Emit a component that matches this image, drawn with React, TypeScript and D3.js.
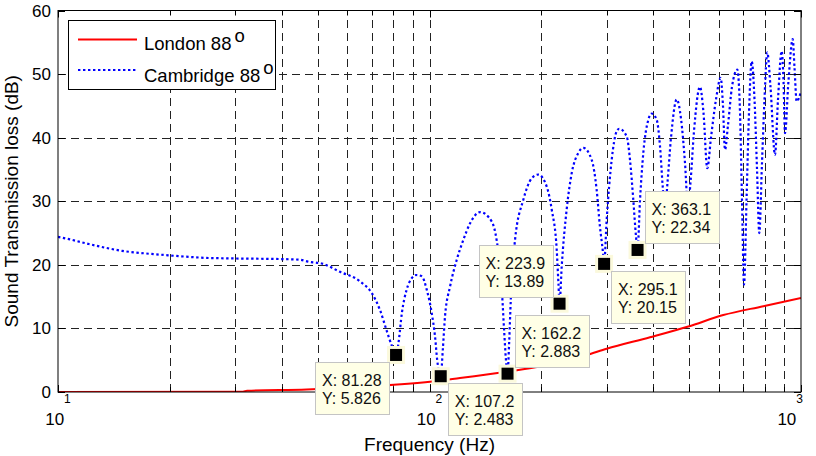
import React from 'react';
import * as d3 from 'd3';

const cambridgeFreq = [
  10.0, 10.77, 12.05, 13.38, 14.87, 17.15, 19.78, 24.87, 29.95, 40.09, 44.81, 47.1, 51.36,
  57.43, 65.02, 70.01, 73.57, 76.83, 79.26, 81.28, 82.5, 84.3, 86.8, 89.6, 92.0, 95.3, 98.3,
  101.4, 103.5, 104.9, 107.2, 108.7, 110.1, 113.6, 118.4, 123.3, 128.5, 136.8, 147.1, 151.6,
  155.8, 158.7, 160.4, 162.2, 163.9, 165.5, 169.9, 178.8, 188.4, 196.3, 206.8, 213.3, 220.0,
  222.4, 223.9, 226.9, 234.0, 241.4, 251.5, 259.4, 273.3, 281.8, 287.6, 292.5, 295.1, 299.9,
  309.3, 319.0, 324.2, 339.5, 346.5, 353.7, 359.6, 363.1, 368.7, 376.3, 388.1, 396.4, 408.9,
  417.4, 424.4, 430.5, 437.2, 446.8, 462.8, 475.3, 487.3, 496.4, 504.2, 515.2, 534.6, 546.3,
  559.4, 572.4, 590.4, 607.8, 616.6, 624.3, 636.1, 652.0, 673.8, 685.2, 693.8, 702.5, 713.4,
  724.5, 736.8, 749.6, 761.4, 772.2, 785.2, 797.4, 811.5, 827.7, 851.1, 867.1, 887.1, 897.2,
  905.6, 925.4, 950.0, 960.6, 973.6, 1000,
];
const cambridgeTL = [
  24.4, 24.0, 23.3, 22.7, 22.2, 21.8, 21.5, 21.1, 21.0, 20.9, 20.8, 20.5, 20.2,
  18.9, 17.4, 15.5, 12.9, 9.5, 7.2, 5.826, 7.7, 12.5, 16.1, 17.9, 18.4, 18.2, 16.1,
  12.4, 8.7, 5.0, 2.483, 7.0, 11.9, 16.6, 20.8, 23.9, 26.5, 28.3, 26.8, 23.9,
  18.0, 10.0, 5.5, 2.883, 8.0, 14.5, 23.9, 30.2, 33.6, 34.2, 32.3, 28.7, 22.4,
  17.0, 13.89, 19.7, 28.7, 34.4, 37.6, 38.4, 36.5, 31.8, 26.0, 22.4, 20.15, 27.1,
  36.5, 41.0, 41.4, 40.2, 36.5, 30.2, 24.5, 22.34, 30.2, 37.6, 42.8, 43.8, 42.8,
  38.6, 32.3, 28.5, 33.0, 40.0, 46.0, 43.0, 36.0, 29.0, 33.0, 41.0, 48.0, 44.0,
  35.2, 40.0, 46.0, 49.4, 45.0, 38.1, 42.0, 48.0, 50.7, 44.0, 30.0, 16.9, 30.0,
  44.0, 52.0, 46.0, 35.0, 25.0, 36.0, 46.0, 53.4, 48.0, 37.3, 46.0, 53.6, 49.0,
  40.7, 49.0, 55.5, 51.0, 45.7, 47.3,
];

const londonFreq = [10, 31.47, 32.27, 46.7, 70.5, 100.3, 120.8, 161.4, 198.4, 264.9, 299.9, 392.2, 497.3, 617.8, 791.6, 1000];
const londonTL = [0, 0.05, 0.2, 0.4, 0.9, 1.6, 2.2, 3.2, 4.0, 5.8, 6.8, 8.6, 10.3, 12.1, 13.5, 14.8];

const yTicks = [0, 10, 20, 30, 40, 50, 60];
const xMajor = [10, 100, 1000];
const xMajorExp = ['1', '2', '3'];
const xMinor = [20, 30, 40, 50, 60, 70, 80, 90, 200, 300, 400, 500, 600, 700, 800, 900];

const tipFreq = [81.28, 107.2, 162.2, 223.9, 295.1, 363.1];
const tipTL = [5.826, 2.483, 2.883, 13.89, 20.15, 22.34];

const legendLabels = ['London 88', 'Cambridge 88'];
const xLabel = 'Frequency (Hz)';
const yLabel = 'Sound Transmission loss (dB)';

const FONT = '"Liberation Sans", Arial, Helvetica, sans-serif';

export default function App() {
  const W = 816, H = 456;
  const L = 58, R = 801, T = 10.5, B = 392;
  const x = d3.scaleLog().domain([10, 1000]).range([L, R]);
  const y = d3.scaleLinear().domain([0, 60]).range([B, T]);
  const line = d3
    .line<[number, number]>()
    .x((d) => x(d[0]))
    .y((d) => y(d[1]))
    .curve(d3.curveMonotoneX);

  const camb: [number, number][] = cambridgeFreq.map((f, i) => [f, cambridgeTL[i]]);
  const lond: [number, number][] = londonFreq.map((f, i) => [f, londonTL[i]]);
  const crisp = (v: number) => Math.round(v) + 0.5;

  const gridColor = '#222';
  const dash = '8,5';

  const placement: [number, number][] = [
    [-1, 1],
    [1, 1],
    [1, -1],
    [-1, -1],
    [1, 1],
    [1, -1],
  ];
  const boxW = 74, boxH = 52, gap = 7;

  return (
    <svg
      width={W}
      height={H}
      style={{ position: 'absolute', left: 0, top: 0, background: '#fff' }}
      fontFamily={FONT}
    >
      <defs>
        <clipPath id="plotclip">
          <rect x={L} y={T} width={R - L} height={B - T} />
        </clipPath>
      </defs>
      <rect x={0} y={0} width={W} height={H} fill="#fff" />

      <g stroke={gridColor} strokeWidth={1} strokeDasharray={dash} fill="none">
        {yTicks
          .filter((v) => v > 0 && v < 60)
          .map((v) => (
            <line key={'gy' + v} x1={L} x2={R} y1={crisp(y(v))} y2={crisp(y(v))} />
          ))}
        {[...xMinor, 100].map((v) => (
          <line key={'gx' + v} x1={crisp(x(v))} x2={crisp(x(v))} y1={B} y2={T} />
        ))}
      </g>

      <g clipPath="url(#plotclip)">
        <path d={line(lond) || ''} fill="none" stroke="#ff0000" strokeWidth={2} />
        <path
          d={line(camb) || ''}
          fill="none"
          stroke="#0000ff"
          strokeWidth={2.2}
          strokeDasharray="2.4,2.6"
        />
      </g>

      <rect x={L} y={T} width={R - L} height={B - T} fill="none" stroke="#000" strokeWidth={1} />

      <g stroke="#000" strokeWidth={1}>
        {yTicks.map((v) => (
          <g key={'ty' + v}>
            <line x1={L} x2={L + 7} y1={crisp(y(v))} y2={crisp(y(v))} />
            <line x1={R - 7} x2={R} y1={crisp(y(v))} y2={crisp(y(v))} />
          </g>
        ))}
        {xMajor.map((v) => (
          <g key={'tx' + v}>
            <line x1={crisp(x(v))} x2={crisp(x(v))} y1={B} y2={B - 7} />
            <line x1={crisp(x(v))} x2={crisp(x(v))} y1={T} y2={T + 7} />
          </g>
        ))}
        {xMinor.map((v) => (
          <g key={'tm' + v}>
            <line x1={crisp(x(v))} x2={crisp(x(v))} y1={B} y2={B - 5} />
            <line x1={crisp(x(v))} x2={crisp(x(v))} y1={T} y2={T + 5} />
          </g>
        ))}
      </g>

      <g fontSize={17} fill="#000" textAnchor="end">
        {yTicks.map((v) => (
          <text key={'ly' + v} x={51} y={y(v) + 6}>
            {v}
          </text>
        ))}
      </g>

      <g fontSize={17} fill="#000">
        {xMajor.map((v, i) => (
          <text
            key={'lx' + v}
            x={i === xMajor.length - 1 ? x(v) + 2 : x(v)}
            y={425}
            textAnchor={i === xMajor.length - 1 ? 'end' : 'middle'}
          >
            10
            <tspan dy={-22} fontSize={12}>
              {xMajorExp[i]}
            </tspan>
          </text>
        ))}
      </g>

      <text x={(L + R) / 2} y={451} fontSize={19} textAnchor="middle">
        {xLabel}
      </text>
      <text
        transform={`translate(18, ${(T + B) / 2}) rotate(-90)`}
        fontSize={19}
        textAnchor="middle"
      >
        {yLabel}
      </text>

      {tipFreq.map((f, i) => {
        const mx = x(f);
        const my = y(tipTL[i]);
        const [sx, sy] = placement[i];
        const bx = sx > 0 ? mx + gap : mx - gap - boxW;
        const by = sy > 0 ? my + gap : my - gap - boxH;
        return (
          <g key={'tip' + i}>
            <rect x={mx - 9} y={my - 9} width={18} height={18} fill="#fbf9dc" />
            <rect x={mx - 6} y={my - 6} width={12} height={12} fill="#000" />
            <rect
              x={Math.round(bx) + 0.5}
              y={Math.round(by) + 0.5}
              width={boxW}
              height={boxH}
              fill="#ffffe6"
              stroke="#c4c4c4"
              strokeWidth={1}
            />
            <text x={bx + 7} y={by + 24} fontSize={16} fill="#111">
              X: {String(f)}
            </text>
            <text x={bx + 7} y={by + 42} fontSize={16} fill="#111">
              Y: {String(tipTL[i])}
            </text>
          </g>
        );
      })}

      <g>
        <rect x={68.5} y={20.5} width={207} height={69} fill="#fff" stroke="#000" strokeWidth={1} />
        <line x1={78} x2={137} y1={39.5} y2={39.5} stroke="#ff0000" strokeWidth={2} />
        <line
          x1={78}
          x2={137}
          y1={70}
          y2={70}
          stroke="#0000ff"
          strokeWidth={2.2}
          strokeDasharray="2.4,2.6"
        />
        <text x={144} y={50} fontSize={18.5}>
          {legendLabels[0]}
          <tspan dx={3} dy={-8}>o</tspan>
        </text>
        <text x={144} y={81.5} fontSize={18.5}>
          {legendLabels[1]}
          <tspan dx={3} dy={-8}>o</tspan>
        </text>
      </g>
    </svg>
  );
}
